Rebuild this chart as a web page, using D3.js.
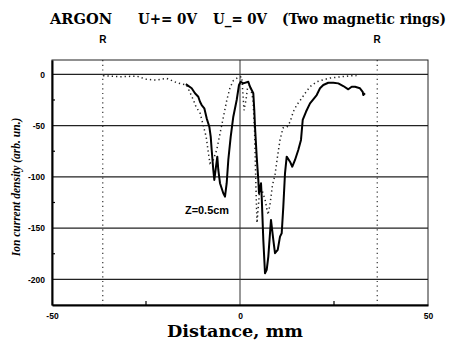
<!DOCTYPE html>
<html>
<head>
<meta charset="utf-8">
<script src="https://cdn.jsdelivr.net/npm/d3@7"></script>
<style>
  html, body { margin: 0; padding: 0; background: #fff; }
  svg { display: block; }
</style>
</head>
<body>
<svg id="chart" width="449" height="350"></svg>
<script>
// Distance (mm) and ion current density (arb. un.), solid probe trace
const solidX = [-14.4, -12.85, -11.97, -11.09, -10.64, -10.19, -9.49, -8.86, -8.16, -7.79, -7.53, -7.10, -6.83, -6.38, -6.04, -5.77, -5.32, -4.44, -3.99, -3.54, -3.11, -2.47, -1.78, -0.88, -0.27, 0.19, 0.88, 2.21, 2.66, 3.54, 3.80, 3.99, 4.44, 4.87, 5.05, 5.59, 5.77, 6.20, 6.65, 7.10, 7.53, 7.98, 8.24, 8.86, 9.31, 10.03, 10.64, 11.09, 11.52, 11.97, 12.42, 13.30, 13.91, 14.63, 15.5, 16.22, 16.68, 17.55, 18.62, 19.49, 20.40, 21.28, 22.15, 23.48, 24.81, 26.14, 27.47, 28.80, 29.71, 30.59, 31.91, 32.63, 32.79, 33.24];
const solidY = [-9.5, -13.6, -18.5, -21.8, -26.7, -29.9, -33.1, -42.9, -51.1, -60.8, -73.8, -93.3, -103, -90.1, -80.3, -93.3, -106.2, -116, -119.3, -106.2, -83.5, -60.8, -41.3, -25, -10.4, -7.2, -8.8, -7.2, -12.1, -18.5, -34.8, -51.1, -80.3, -103, -116, -106.2, -119.3, -161.5, -194, -190.7, -177.8, -155, -142, -161.5, -174.5, -171.2, -158.3, -155, -129, -96.5, -80.3, -85.2, -90.1, -83.5, -73.8, -64, -44.5, -36.5, -28.3, -24.4, -20.2, -13.6, -10.4, -8.2, -8.2, -8.8, -11.4, -14.6, -12.1, -12.1, -13.6, -17, -20.2, -18.5];

// Dotted trace
const dottedX = [-36.4, -31.9, -27.5, -24.8, -22.2, -19.5, -16.8, -14.2, -12.4, -11.7, -10.6, -9.0, -8.4, -8.0, -7.1, -6.2, -5.3, -4.4, -3.5, -2.7, -1.8, -0.45, 0.45, 0.8, 1.06, 1.6, 2.0, 2.66, 3.46, 3.86, 4.26, 4.52, 4.92, 5.32, 5.85, 6.65, 7.45, 7.98, 8.64, 9.31, 10.03, 10.64, 11.44, 12.5, 13.3, 14.18, 15.08, 16.41, 17.29, 18.62, 20.40, 22.15, 23.9, 26.6, 29.0, 31.0];
const dottedY = [-1.4, -2.3, -1.7, -4.9, -5.6, -3.9, -8.2, -10.4, -25, -31.6, -38, -60.8, -77, -86.7, -83.5, -73.8, -57.5, -41.3, -25, -13.6, -6.2, -2.9, -2.3, -20, -35, -25, -13, -10.4, -25, -54, -113, -145, -127, -108, -113, -122, -137, -127, -108, -98, -78.6, -64, -52.3, -51.3, -46.5, -36.5, -29.9, -23.4, -18.5, -12.1, -7.2, -5.3, -3.6, -2.5, -1.5, -1.2];

const xTicks = [-50, 0, 50];
const xMinorTicks = [-25, 25];
const yTicks = [0, -50, -100, -150, -200];
const yMinorTicks = [-25, -75, -125, -175];
const rPositions = [-36.5, 36.5];

const svg = d3.select("#chart");
const plotLeft = 52, plotRight = 428, plotTop = 60, plotBottom = 305;

const x = d3.scaleLinear().domain([-50, 50]).range([plotLeft, plotRight]);
const y = d3.scaleLinear().domain([-225, 14]).range([plotBottom, plotTop]);

const serif = "DejaVu Serif, Liberation Serif, serif";

// Title, set as four spaced groups
const titleParts = [
  { t: "ARGON", x: 50, w: 62 },
  { t: "U+= 0V", x: 138, w: 59 },
  { t: "U_= 0V", x: 213, w: 54 },
  { t: "(Two magnetic rings)", x: 282, w: 164 }
];
svg.append("g").selectAll("text").data(titleParts).join("text")
  .attr("x", d => d.x).attr("y", 24)
  .attr("font-family", serif)
  .attr("font-weight", "bold")
  .attr("font-size", 14)
  .attr("textLength", d => d.w)
  .attr("lengthAdjust", "spacingAndGlyphs")
  .text(d => d.t);

// Horizontal gridlines
svg.append("g").selectAll("line").data(yTicks).join("line")
  .attr("x1", plotLeft).attr("x2", plotRight)
  .attr("y1", d => y(d)).attr("y2", d => y(d))
  .attr("stroke", "#222").attr("stroke-width", 1.4);

// Vertical line at zero distance
svg.append("line")
  .attr("x1", x(0)).attr("x2", x(0)).attr("y1", plotTop).attr("y2", plotBottom)
  .attr("stroke", "#333").attr("stroke-width", 1);

// Ring radius markers
svg.append("g").selectAll("line").data(rPositions).join("line")
  .attr("x1", d => x(d)).attr("x2", d => x(d)).attr("y1", plotTop).attr("y2", plotBottom)
  .attr("stroke", "#333").attr("stroke-width", 1.2).attr("stroke-dasharray", "1.2,3.5");
svg.append("g").selectAll("text").data(rPositions).join("text")
  .attr("x", d => x(d)).attr("y", 42.5)
  .attr("text-anchor", "middle")
  .attr("font-family", "Liberation Sans, Arial, sans-serif")
  .attr("font-weight", "bold").attr("font-size", 10)
  .text("R");

// Frame
svg.append("rect")
  .attr("x", plotLeft).attr("y", plotTop)
  .attr("width", plotRight - plotLeft).attr("height", plotBottom - plotTop)
  .attr("fill", "none").attr("stroke", "#222").attr("stroke-width", 1);

// Axes
const xAxis = d3.axisBottom(x).tickValues(xTicks).tickSize(0).tickPadding(8).tickFormat(d => String(d));
const gx = svg.append("g").attr("transform", `translate(0,${plotBottom})`).call(xAxis);
gx.select(".domain").attr("stroke", "#000").attr("stroke-width", 2);
gx.selectAll("text")
  .attr("font-family", "Liberation Sans, Arial, sans-serif")
  .attr("font-weight", "bold").attr("font-size", 8.5).attr("fill", "#000");

const yAxis = d3.axisLeft(y).tickValues(yTicks).tickSize(0).tickPadding(7).tickFormat(d => String(d));
const gy = svg.append("g").attr("transform", `translate(${plotLeft},0)`).call(yAxis);
gy.select(".domain").attr("stroke", "#000").attr("stroke-width", 2);
gy.selectAll("text")
  .attr("font-family", "Liberation Sans, Arial, sans-serif")
  .attr("font-weight", "bold").attr("font-size", 8.5).attr("fill", "#000");

// Minor ticks, pointing inward
svg.append("g").selectAll("line").data(xMinorTicks).join("line")
  .attr("x1", d => x(d)).attr("x2", d => x(d)).attr("y1", plotBottom).attr("y2", plotBottom - 4)
  .attr("stroke", "#000").attr("stroke-width", 1.2);
svg.append("g").selectAll("line").data(yMinorTicks).join("line")
  .attr("x1", plotLeft).attr("x2", plotLeft + 3).attr("y1", d => y(d)).attr("y2", d => y(d))
  .attr("stroke", "#000").attr("stroke-width", 1.2);

// Axis titles
svg.append("text")
  .attr("x", 167).attr("y", 337)
  .attr("font-family", serif)
  .attr("font-weight", "bold").attr("font-size", 16)
  .attr("textLength", 136)
  .attr("lengthAdjust", "spacingAndGlyphs")
  .text("Distance, mm");

svg.append("text")
  .attr("transform", "translate(20,187) rotate(-90)")
  .attr("text-anchor", "middle")
  .attr("font-family", "Liberation Serif, serif")
  .attr("font-weight", "bold").attr("font-style", "italic").attr("font-size", 11.5)
  .text("Ion current density (arb. un.)");

// Traces
const line = d3.line().x(d => x(d[0])).y(d => y(d[1]));

svg.append("path")
  .datum(d3.zip(dottedX, dottedY))
  .attr("d", line)
  .attr("fill", "none").attr("stroke", "#222").attr("stroke-width", 1.5)
  .attr("stroke-dasharray", "1.3,3");

svg.append("path")
  .datum(d3.zip(solidX, solidY))
  .attr("d", line)
  .attr("fill", "none").attr("stroke", "#000").attr("stroke-width", 2)
  .attr("stroke-linejoin", "round");

// Curve label
svg.append("text")
  .attr("x", 185).attr("y", 214)
  .attr("font-family", "Liberation Sans, Arial, sans-serif")
  .attr("font-size", 10.5).attr("font-weight", "600")
  .attr("textLength", 44)
  .attr("lengthAdjust", "spacingAndGlyphs")
  .text("Z=0.5cm");
</script>
</body>
</html>
